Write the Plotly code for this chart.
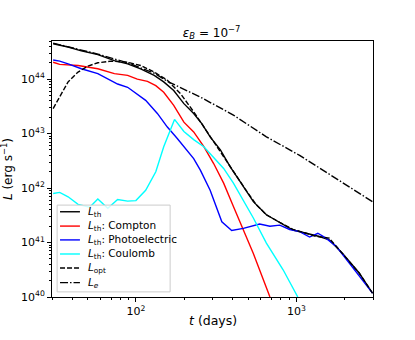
import numpy as np
import plotly.graph_objects as go

# t in days, luminosity as log10(L / erg s^-1)
t_th = [30.5, 37.8, 45.7, 57.9, 73.4, 88.8, 107, 130, 149, 172, 199, 229, 258, 290, 336, 387, 446, 539, 650, 787, 952, 1150, 1390, 1600, 1940, 2460, 2980]
logL_th = [44.65, 44.59, 44.52, 44.45, 44.34, 44.28, 44.19, 44.07, 43.95, 43.79, 43.55, 43.37, 43.18, 42.94, 42.70, 42.39, 42.12, 41.75, 41.51, 41.37, 41.23, 41.17, 41.11, 41.05, 40.80, 40.44, 40.07]

t_comp = [30.5, 33.5, 43.6, 57.9, 73.4, 88.8, 102, 118, 133, 149, 172, 199, 229, 265, 305, 352, 405, 467, 539, 684]
logL_comp = [44.31, 44.27, 44.25, 44.19, 44.10, 44.07, 44.00, 43.96, 43.88, 43.76, 43.52, 43.21, 43.03, 42.76, 42.45, 42.09, 41.66, 41.23, 40.80, 40.0]

t_photo = [30.5, 33.5, 37.8, 45.7, 57.9, 66.8, 76.9, 88.8, 102, 115, 136, 157, 181, 199, 229, 252, 290, 343, 395, 467, 590, 684, 787, 908, 1047, 1208, 1360, 1528, 1770, 2140, 2980]
logL_photo = [44.35, 44.33, 44.28, 44.19, 44.10, 44.00, 43.91, 43.85, 43.73, 43.61, 43.37, 43.12, 42.91, 42.76, 42.54, 42.33, 41.96, 41.38, 41.22, 41.26, 41.34, 41.30, 41.32, 41.24, 41.20, 41.10, 41.17, 41.08, 40.93, 40.62, 40.07]

t_coul = [30.5, 33.5, 37.8, 43.6, 51.5, 57.9, 66.8, 76.9, 88.8, 100, 115, 133, 149, 174, 199, 229, 265, 305, 352, 405, 467, 539, 650, 826, 1020]
logL_coul = [41.90, 41.92, 41.84, 41.70, 41.65, 41.80, 41.63, 41.79, 41.76, 41.77, 41.96, 42.30, 42.76, 43.26, 43.04, 42.89, 42.76, 42.57, 42.36, 42.09, 41.78, 41.45, 40.99, 40.50, 40.0]

t_opt = [30.5, 33.5, 37.8, 43.6, 50.3, 57.9, 70, 88.8, 107, 130, 157, 190, 229, 278, 336, 405, 480, 560, 650, 787, 952, 1150, 1300, 1600, 1940, 2460, 2980]
logL_opt = [43.46, 43.67, 43.95, 44.13, 44.24, 44.30, 44.33, 44.31, 44.25, 44.13, 43.98, 43.73, 43.40, 43.03, 42.66, 42.30, 41.98, 41.70, 41.51, 41.37, 41.24, 41.17, 41.12, 41.08, 40.80, 40.44, 40.07]

t_e = [30.5, 57.9, 88.8, 130, 157, 252, 405, 650, 1047, 1690, 2980]
logL_e = [44.66, 44.46, 44.30, 44.11, 43.96, 43.67, 43.34, 42.94, 42.60, 42.21, 41.75]

font = "DejaVu Sans, sans-serif"
fig = go.Figure()

series = [
    (t_th, logL_th, "<i>L</i><sub>th</sub>", "black", "solid"),
    (t_comp, logL_comp, "<i>L</i><sub>th</sub>: Compton", "red", "solid"),
    (t_photo, logL_photo, "<i>L</i><sub>th</sub>: Photoelectric", "blue", "solid"),
    (t_coul, logL_coul, "<i>L</i><sub>th</sub>: Coulomb", "cyan", "solid"),
    (t_opt, logL_opt, "<i>L</i><sub>opt</sub>", "black", "5px,2px"),
    (t_e, logL_e, "<i>L<sub>e</sub></i>", "black", "8px,2px,1.5px,2px"),
]
for t, lg, name, col, dash in series:
    fig.add_trace(go.Scatter(x=t, y=10 ** np.array(lg), mode="lines", name=name,
                             line=dict(color=col, width=1.4, dash=dash), showlegend=False))

# matplotlib-style compact legend drawn by hand (plotly's rows are too tall)
fig.add_shape(type="rect", xref="paper", yref="paper", x0=0.016, x1=0.368, y0=0.02, y1=0.359,
              fillcolor="rgba(255,255,255,0.8)", line=dict(color="#cccccc", width=1), layer="above")
row_y = [0.333, 0.277, 0.223, 0.168, 0.113, 0.056]
for (t, lg, name, col, dash), yy in zip(series, row_y):
    fig.add_shape(type="line", xref="paper", yref="paper", x0=0.025, x1=0.087, y0=yy, y1=yy,
                  line=dict(color=col, width=1.4, dash=dash), layer="above")
    fig.add_annotation(xref="paper", yref="paper", x=0.106, y=yy, xanchor="left", yanchor="middle",
                       text=name, showarrow=False, font=dict(size=10.5))

# axis titles as annotations so they sit where matplotlib put them
fig.add_annotation(xref="paper", yref="paper", x=0.5, y=-0.09, xanchor="center", yanchor="middle",
                   text="<i>t</i> (days)", showarrow=False, font=dict(size=12.5))
fig.add_annotation(xref="paper", yref="paper", x=-0.14, y=0.5, xanchor="center", yanchor="middle",
                   text="<i>L</i> (erg s<sup>−1</sup>)", textangle=-90, showarrow=False, font=dict(size=12))

minor_x = [30, 40, 50, 60, 70, 80, 90, 200, 300, 400, 500, 600, 700, 800, 900, 2000, 3000]
minor_y = [m * 10.0 ** e for e in range(40, 45) for m in range(2, 10)]

fig.update_layout(
    width=415, height=340,
    margin=dict(l=52, r=42, t=41, b=43),
    paper_bgcolor="white", plot_bgcolor="white",
    font=dict(family=font, size=12, color="black"),
    title=dict(text="<i>ε<sub>B</sub></i> = 10<sup>−7</sup>", x=0.51, xanchor="center",
               y=0.904, yanchor="middle", font=dict(size=12)),
    showlegend=False,
)
fig.update_xaxes(type="log", range=[np.log10(30), np.log10(3000)], automargin=False,
                 tickvals=[100, 1000], ticktext=["10<sup>2</sup>", "10<sup>3</sup>"],
                 tickfont=dict(size=11),
                 ticks="outside", ticklen=4, tickcolor="black",
                 minor=dict(tickvals=minor_x, ticks="outside", ticklen=2, tickcolor="black"),
                 showline=True, linecolor="black", linewidth=1, mirror=True,
                 showgrid=False, zeroline=False)
fig.update_yaxes(type="log", range=[40, 44.7], automargin=False,
                 tickvals=[1e40, 1e41, 1e42, 1e43, 1e44],
                 ticktext=["10<sup>40</sup>", "10<sup>41</sup>", "10<sup>42</sup>", "10<sup>43</sup>", "10<sup>44</sup>"],
                 tickfont=dict(size=11),
                 ticks="outside", ticklen=4, tickcolor="black",
                 minor=dict(tickvals=minor_y, ticks="outside", ticklen=2, tickcolor="black"),
                 showline=True, linecolor="black", linewidth=1, mirror=True,
                 showgrid=False, zeroline=False)

# drop the browser's default 8px body margin so the figure sits at the page corner
fig.write_html("out.html", config={"displayModeBar": False},
               post_script="document.body.style.margin='0';")
